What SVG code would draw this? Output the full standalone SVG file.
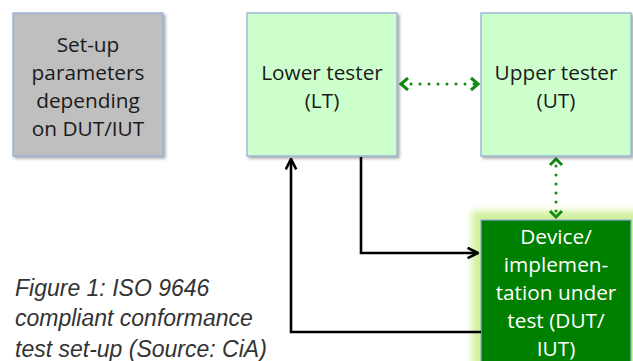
<svg xmlns="http://www.w3.org/2000/svg" width="633" height="361" viewBox="0 0 633 361">
  <defs>
    <style>
      .box { stroke: #8eaad6; stroke-width: 1.2; }
      .grey { fill: #bfbfbf; }
      .light { fill: #ccffcc; }
      .dut { fill: #008000; }
      .lbl { font-family: "Open Sans", "Noto Sans", sans-serif; font-size: 20.8px; fill: #1a1a1a; text-anchor: middle; }
      .lbl-w { fill: #ffffff; }
      .cap { font-family: "Liberation Sans", Arial, sans-serif; font-style: italic; font-size: 23px; fill: #333333; }
      .wire { fill: none; stroke: #000000; stroke-width: 2.6; }
      .grey-wire { fill: none; stroke: #808080; stroke-width: 3; }
      .dots { fill: none; stroke: #108a10; stroke-width: 3; stroke-linecap: round; stroke-dasharray: 0 9; }
    </style>
    <filter id="shadow" x="-10%" y="-10%" width="125%" height="125%">
      <feGaussianBlur in="SourceAlpha" stdDeviation="1.5"/>
      <feOffset dx="2" dy="2"/>
      <feComponentTransfer><feFuncA type="linear" slope="0.35"/></feComponentTransfer>
      <feMerge><feMergeNode/><feMergeNode in="SourceGraphic"/></feMerge>
    </filter>
    <filter id="glow" x="-20%" y="-20%" width="140%" height="140%">
      <feGaussianBlur stdDeviation="3.5"/>
    </filter>
    <marker id="ah-black" viewBox="0 0 10 10" refX="9" refY="5" markerWidth="5" markerHeight="5" markerUnits="strokeWidth" orient="auto-start-reverse">
      <path d="M1,1 L9,5 L1,9" fill="none" stroke="#000000" stroke-width="2"/>
    </marker>
    <marker id="ah-grey" viewBox="0 0 10 10" refX="9" refY="5" markerWidth="5" markerHeight="5" markerUnits="strokeWidth" orient="auto-start-reverse">
      <path d="M1,1 L9,5 L1,9" fill="none" stroke="#808080" stroke-width="2"/>
    </marker>
  </defs>

  <rect width="633" height="361" fill="#ffffff"/>

  <!-- device under test, with its soft halo (drawn first so arrows sit on top) -->
  <g id="dut">
    <rect x="472" y="211" width="168" height="160" fill="#d2f09c" filter="url(#glow)"/>
    <rect class="box dut" x="481" y="220" width="150" height="150"/>
    <text class="lbl lbl-w" x="556" y="244">Device/</text>
    <text class="lbl lbl-w" x="556" y="272">implemen-</text>
    <text class="lbl lbl-w" x="556" y="300">tation under</text>
    <text class="lbl lbl-w" x="556" y="328">test (DUT/</text>
    <text class="lbl lbl-w" x="556" y="356">IUT)</text>
  </g>

  <!-- connectors -->
  <g id="connectors">
    <line class="grey-wire" x1="166" y1="84" x2="244" y2="84" marker-start="url(#ah-grey)" marker-end="url(#ah-grey)" filter="url(#shadow)"/>
    <line class="dots" x1="402" y1="84" x2="476" y2="84"/>
    <path d="M408,78 L401,84 L408,90 M471,78 L478,84 L471,90" fill="none" stroke="#108a10" stroke-width="3"/>
    <line class="dots" x1="556" y1="166" x2="556" y2="212"/>
    <path d="M550,165 L556,159 L562,165 M550,211 L556,217 L562,211" fill="none" stroke="#108a10" stroke-width="3"/>
    <polyline class="wire" points="361,157 361,253 478,253" marker-end="url(#ah-black)"/>
    <polyline class="wire" points="481,332 291,332 291,159" marker-end="url(#ah-black)"/>
  </g>

  <!-- set-up parameters -->
  <g id="setup">
    <rect class="box grey" x="13" y="13" width="150" height="143" filter="url(#shadow)"/>
    <text class="lbl" x="88" y="52">Set-up</text>
    <text class="lbl" x="88" y="80">parameters</text>
    <text class="lbl" x="88" y="108">depending</text>
    <text class="lbl" x="88" y="136">on DUT/IUT</text>
  </g>

  <!-- lower tester -->
  <g id="lt">
    <rect class="box light" x="247" y="13" width="150" height="143" filter="url(#shadow)"/>
    <text class="lbl" x="322" y="80">Lower tester</text>
    <text class="lbl" x="322" y="108">(LT)</text>
  </g>

  <!-- upper tester -->
  <g id="ut">
    <rect class="box light" x="481" y="13" width="150" height="143" filter="url(#shadow)"/>
    <text class="lbl" x="556" y="80">Upper tester</text>
    <text class="lbl" x="556" y="108">(UT)</text>
  </g>

  <!-- caption -->
  <g id="caption">
    <text class="cap" x="15" y="296">Figure 1: ISO 9646</text>
    <text class="cap" x="15" y="326">compliant conformance</text>
    <text class="cap" x="15" y="357">test set-up (Source: CiA)</text>
  </g>
</svg>
